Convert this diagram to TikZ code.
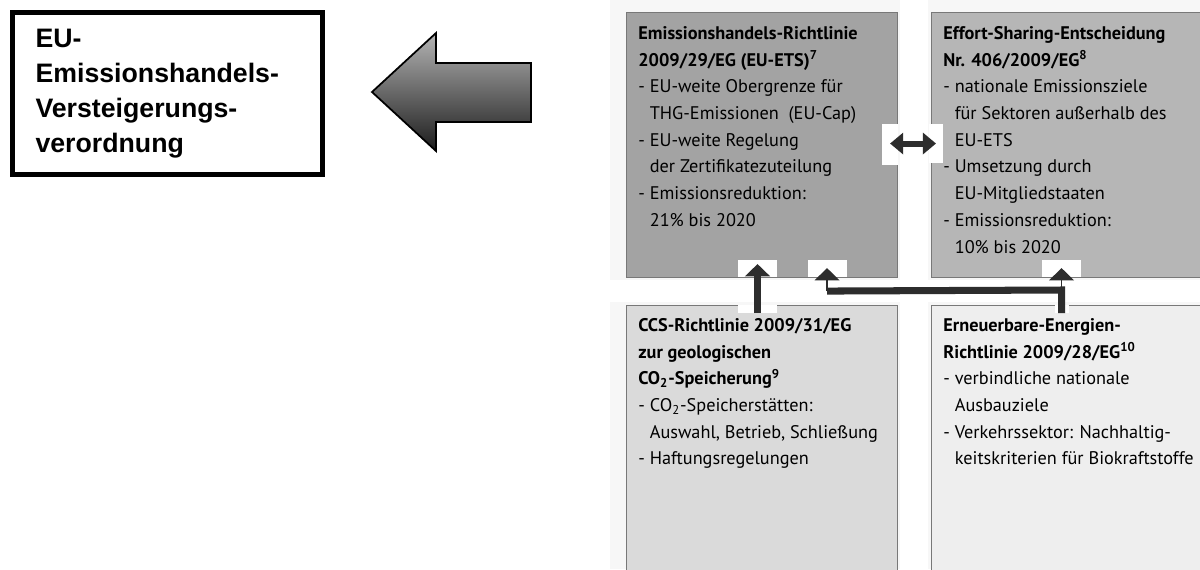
\documentclass[tikz,border=0pt]{standalone}
\usepackage{fontspec}
\setmainfont{PT Sans}
\newfontfamily\arialfont{Liberation Sans}
\usepackage{tikz}
\usepackage{xcolor}
\usetikzlibrary{arrows.meta, positioning, calc}

\definecolor{etsgray}{RGB}{163,163,163}
\definecolor{esdgray}{RGB}{182,182,182}
\definecolor{ccsgray}{RGB}{218,218,218}
\definecolor{eegray}{RGB}{238,238,238}
\definecolor{boxedge}{RGB}{120,120,120}
\definecolor{arrowdark}{RGB}{45,45,45}
\definecolor{arrowlight}{RGB}{180,180,180}
\definecolor{arrowdeep}{RGB}{28,28,28}

\newcommand{\hang}{\hphantom{- }}

\begin{document}
\begin{tikzpicture}[x=0.02cm, y=-0.02cm]
  \tikzset{
    box/.style={draw=boxedge, line width=0.6pt, anchor=north west, inner sep=0pt},
    boxtext/.style={anchor=north west, inner sep=0pt, align=left, font=\fontsize{10.4}{15.2}\selectfont},
    regbox/.style={draw, line width=2.9pt, anchor=north west, align=left,
      minimum width={310*0.02cm}, minimum height={162*0.02cm},
      text width={264*0.02cm}, inner xsep={23*0.02cm},
      font=\arialfont\bfseries\fontsize{15.2}{19.9}\selectfont},
    flow/.style={-{Triangle[width=14pt,length=7pt]}, line width=3.6pt, draw=arrowdark},
    twoway/.style={{Triangle[width=12pt,length=7.5pt]}-{Triangle[width=12pt,length=7.5pt]}, line width=3.4pt, draw=arrowdark},
    link/.style={line width=4pt, draw=arrowdark},
    patch/.style={fill=white, draw=none}
  }
  \useasboundingbox (0,0) rectangle (1200,569);

  % Panel behind the four directives
  \fill[gray!6] (610,0) rectangle (1200,569);
  \fill[white] (900,0) rectangle (928,569);
  \fill[white] (610,280) rectangle (1200,302);

  % Regulation box and block arrow on the left
  \node[regbox] (avv) at (10,10) {EU-\\Emissionshandels-\\Versteigerungs-\\verordnung};
  \shade[top color=arrowlight, bottom color=arrowdeep, draw=black, line width=1pt]
    (372,92) -- (436,33) -- (436,63) -- (531,63) -- (531,122) -- (436,122) -- (436,151) -- cycle;

  % The four directives
  \node[box, fill=etsgray, minimum width={271*0.02cm}, minimum height={265*0.02cm}] (ets) at (626,12) {};
  \node[box, fill=esdgray, minimum width={275*0.02cm}, minimum height={265*0.02cm}] (esd) at (931,12) {};
  \node[box, fill=ccsgray, minimum width={271*0.02cm}, minimum height={270*0.02cm}] (ccs) at (626,305) {};
  \node[box, fill=eegray, minimum width={275*0.02cm}, minimum height={270*0.02cm}] (ee) at (931,305) {};

  \node[boxtext] (etstext) at ($(ets.north west)+(12,14)$) {%
    \textbf{Emissionshandels-Richtlinie}\\
    \textbf{2009/29/EG (EU-ETS)\textsuperscript{7}}\\
    - EU-weite Obergrenze für\\
    \hang THG-Emissionen~ (EU-Cap)\\
    - EU-weite Regelung\\
    \hang der Zertifikatezuteilung\\
    - Emissionsreduktion:\\
    \hang 21\% bis 2020};
  \node[boxtext] (esdtext) at ($(esd.north west)+(12,14)$) {%
    \textbf{Effort-Sharing-Entscheidung}\\
    \textbf{Nr. 406/2009/EG\textsuperscript{8}}\\
    - nationale Emissionsziele\\
    \hang für Sektoren außerhalb des\\
    \hang EU-ETS\\
    - Umsetzung durch\\
    \hang EU-Mitgliedstaaten\\
    - Emissionsreduktion:\\
    \hang 10\% bis 2020};
  \node[boxtext] (ccstext) at ($(ccs.north west)+(12,13)$) {%
    \textbf{CCS-Richtlinie 2009/31/EG}\\
    \textbf{zur geologischen}\\
    \textbf{CO\textsubscript{2}-Speicherung\textsuperscript{9}}\\
    - CO\textsubscript{2}-Speicherstätten:\\
    \hang Auswahl, Betrieb, Schließung\\
    - Haftungsregelungen};
  \node[boxtext] (eetext) at ($(ee.north west)+(12,13)$) {%
    \textbf{Erneuerbare-Energien-}\\
    \textbf{Richtlinie 2009/28/EG\textsuperscript{10}}\\
    - verbindliche nationale\\
    \hang Ausbauziele\\
    - Verkehrssektor: Nachhaltig-\\
    \hang keitskriterien für Biokraftstoffe};

  % White patches behind the arrow ends
  \fill[patch] (738,260) rectangle (777,277);
  \fill[patch] (738,305) rectangle (777,313);
  \fill[patch] (808,260) rectangle (847,277);
  \fill[patch] (1042,260) rectangle (1081,277);
  \fill[patch] (1055,305) rectangle (1069,313);
  \fill[patch] (882,124) rectangle (898,165);
  \fill[patch] (929,124) rectangle (943,163);

  % Connectors
  \coordinate (ccsout) at ($(ccs.north)+(-4.5,8)$);
  \coordinate (etsin) at ($(ets.south)+(-4.5,-14)$);
  \coordinate (eeout) at ($(ee.north)+(-7.5,8)$);
  \coordinate (join) at ($(ee.north)+(-7.5,-15)$);
  \coordinate (corner) at ($(ets.south)+(65,13)$);
  \coordinate (etsin2) at ($(ets.south)+(65,-10)$);
  \coordinate (esdin) at ($(esd.south)+(-7.5,-10)$);

  \draw[flow] (ccsout) -- (etsin);
  \draw[link] (eeout) -- (join) -- (corner);
  \draw[flow, line width=1pt] (corner) -- (etsin2);
  \draw[flow, line width=1pt] (join) -- (esdin);
  \draw[twoway] ($(ets.east)+(-8,-1.5)$) -- ($(esd.west)+(5,-1.5)$);
\end{tikzpicture}
\end{document}
